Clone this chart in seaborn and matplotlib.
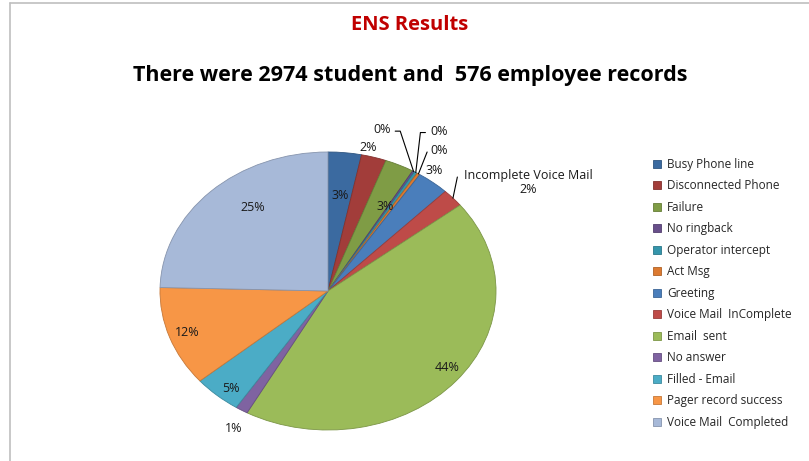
import numpy as np
import seaborn as sns
import matplotlib.pyplot as plt
from matplotlib.colors import to_rgb
from matplotlib.lines import Line2D
from matplotlib.patches import Patch

# data
categories = ["Busy Phone line", "Disconnected Phone", "Failure", "No ringback",
              "Operator intercept", "Act Msg", "Greeting", "Voice Mail  InComplete",
              "Email  sent", "No answer", "Filled - Email", "Pager record success",
              "Voice Mail  Completed"]
shares = [3.2, 2.4, 2.8, 0.2, 0.3, 0.3, 3.1, 2.1, 43.6, 1.2, 4.6, 11.6, 24.6]
slice_names = ["", "", "", "", "", "", "", "Incomplete Voice Mail", "", "", "", "", ""]
colors = ["#3B6AA0", "#A23D3A", "#7F9C45", "#684F8A", "#3595AB", "#DC7A30",
          "#4A7EBB", "#BE4B48", "#9BBB59", "#7F63A1", "#4BACC6", "#F79646", "#A7B9D8"]

# label positions in normalised pie coords (x, y), and leader elbows
label_pos = [(0.07, 0.69), (0.24, 1.03), (0.34, 0.61), (0.32, 1.16), (0.66, 1.15),
             (0.66, 1.01), (0.63, 0.87), (1.19, 0.78), (0.71, -0.55), (-0.56, -0.99),
             (-0.58, -0.70), (-0.84, -0.30), (-0.45, 0.60)]
leaders = {3: [(0.40, 1.15), (0.43, 1.15)],
           4: [(0.58, 1.14), (0.55, 1.14)],
           5: [(0.59, 1.0)],
           7: [(0.77, 0.82)]}

sns.set_theme(style="white")
plt.rcParams["font.family"] = ["Open Sans", "DejaVu Sans"]

fig = plt.figure(figsize=(8.09, 4.61), dpi=100)
W, H = 809, 461
cx, cy, rx, ry = 328, 291, 168, 139
ax = fig.add_axes([(cx - rx) / W, (H - cy - ry) / H, 2 * rx / W, 2 * ry / H])


def darker(c):
    return tuple(v * 0.8 for v in to_rgb(c))


wedges, _ = ax.pie(shares, colors=colors, startangle=90, counterclock=False,
                   wedgeprops=dict(linewidth=0.6))
for w, c in zip(wedges, colors):
    w.set_edgecolor(darker(c))

ax.set_aspect("auto")
ax.set_xlim(-1, 1)
ax.set_ylim(-1, 1)
ax.axis("off")

total = sum(shares)
for i, w in enumerate(wedges):
    pct = "%d%%" % round(shares[i] / total * 100)
    txt = pct if not slice_names[i] else slice_names[i] + "\n" + pct
    x, y = label_pos[i]
    ax.text(x, y, txt, ha="center", va="center", fontsize=9, color="#1a1a1a",
            clip_on=False, linespacing=1.1)
    if i in leaders:
        mid = np.deg2rad((w.theta1 + w.theta2) / 2)
        pts = leaders[i] + [(np.cos(mid), np.sin(mid))]
        xs, ys = zip(*pts)
        ax.plot(xs, ys, color="black", lw=0.8, clip_on=False)

fig.text(410 / W, 1 - 25 / H, "ENS Results", ha="center", va="center",
         fontsize=14.5, fontweight="bold", color="#C00000")
fig.text(410 / W, 1 - 76 / H, "There were 2974 student and  576 employee records",
         ha="center", va="center", fontsize=15.5, fontweight="bold", color="black")

handles = [Patch(facecolor=c, edgecolor=darker(c), linewidth=0.6) for c in colors]
fig.legend(handles, categories, loc="upper left", bbox_to_anchor=(647 / W, 1 - 152 / H),
           frameon=False, fontsize=8.5, labelspacing=0.72, handlelength=0.7,
           handleheight=0.7, handletextpad=0.5, borderpad=0)

# chart area border (top and left visible)
fig.add_artist(Line2D([10 / W, 1], [1 - 3 / H, 1 - 3 / H], color="#BFBFBF", lw=1.2))
fig.add_artist(Line2D([10 / W, 10 / W], [0, 1 - 3 / H], color="#BFBFBF", lw=1.2))

fig.savefig("out.png", dpi=100)
